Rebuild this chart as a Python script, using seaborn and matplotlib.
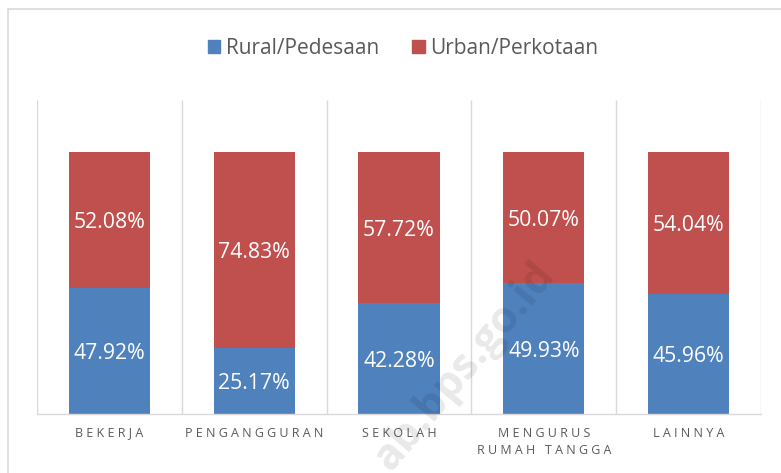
import numpy as np
import pandas as pd
import matplotlib.pyplot as plt
import seaborn as sns
from matplotlib.patches import Rectangle, Patch

categories = ['BEKERJA', 'PENGANGGURAN', 'SEKOLAH', 'MENGURUS\nRUMAH TANGGA', 'LAINNYA']
rural = [47.92, 25.17, 42.28, 49.93, 45.96]
urban = [52.08, 74.83, 57.72, 50.07, 54.04]

BLUE = '#4F81BD'
RED = '#C0504D'
GRID = '#D9D9D9'

sns.set_style('white')
plt.rcParams['font.family'] = ['Open Sans', 'DejaVu Sans']


def spaced(s):
    # letter-spaced tick labels like the original
    return '\n'.join(' '.join(line) for line in s.split('\n'))


df = pd.DataFrame({'cat': categories, 'rural': rural, 'urban': urban})
df['total'] = df['rural'] + df['urban']

fig = plt.figure(figsize=(7.81, 4.73), dpi=100)
ax = fig.add_axes([0.0474, 0.1247, 0.9270, 0.6647])

sns.barplot(data=df, x='cat', y='total', color=RED, width=0.56, ax=ax,
            saturation=1, edgecolor='none')
sns.barplot(data=df, x='cat', y='rural', color=BLUE, width=0.56, ax=ax,
            saturation=1, edgecolor='none')

# labels
blue_bars = ax.containers[1]
for bar, r, u in zip(blue_bars, rural, urban):
    x = bar.get_x() + bar.get_width() / 2
    ax.text(x, r / 2, f'{r:.2f}%', ha='center', va='center_baseline', color='white', fontsize=15.3)
    ax.text(x, r + u / 2, f'{u:.2f}%', ha='center', va='center_baseline', color='white', fontsize=15.3)

ax.set_ylim(0, 120)
ax.set_xlim(-0.5, len(categories) - 0.5)
ax.vlines(np.arange(-0.5, len(categories)), 0, 120, color=GRID, lw=1, zorder=0)
for s in ['top', 'right', 'left']:
    ax.spines[s].set_visible(False)
ax.spines['bottom'].set_color(GRID)
ax.spines['bottom'].set_linewidth(1)
ax.set_yticks([])
ax.set_xticks(range(len(categories)))
ax.set_xticklabels([spaced(c) for c in categories], fontsize=9, color='#595959',
                   linespacing=1.45)
ax.tick_params(axis='x', length=0, pad=9)
ax.set_xlabel('')
ax.set_ylabel('')

handles = [Patch(color=BLUE, label='Rural/Pedesaan'), Patch(color=RED, label='Urban/Perkotaan')]
fig.legend(handles=handles, loc='center', bbox_to_anchor=(403 / 781, 1 - 48 / 473), ncol=2,
           frameon=False, fontsize=15, labelcolor='#595959', handlelength=0.6,
           handleheight=0.6, handletextpad=0.25, columnspacing=1.6)

# chart border
fig.patches.append(Rectangle((8 / 781, -0.1), 1.1, 1.1 - 9 / 473, transform=fig.transFigure,
                             fill=False, edgecolor=GRID, lw=1.2))

# faint watermark
fig.text(556 / 781, 1 - 275 / 473, 'ab.bps.go.id', rotation=50, rotation_mode='anchor',
         ha='right', va='baseline', fontsize=31, fontweight='bold', color='#000000',
         alpha=0.09)

plt.savefig('out.png', dpi=100)
